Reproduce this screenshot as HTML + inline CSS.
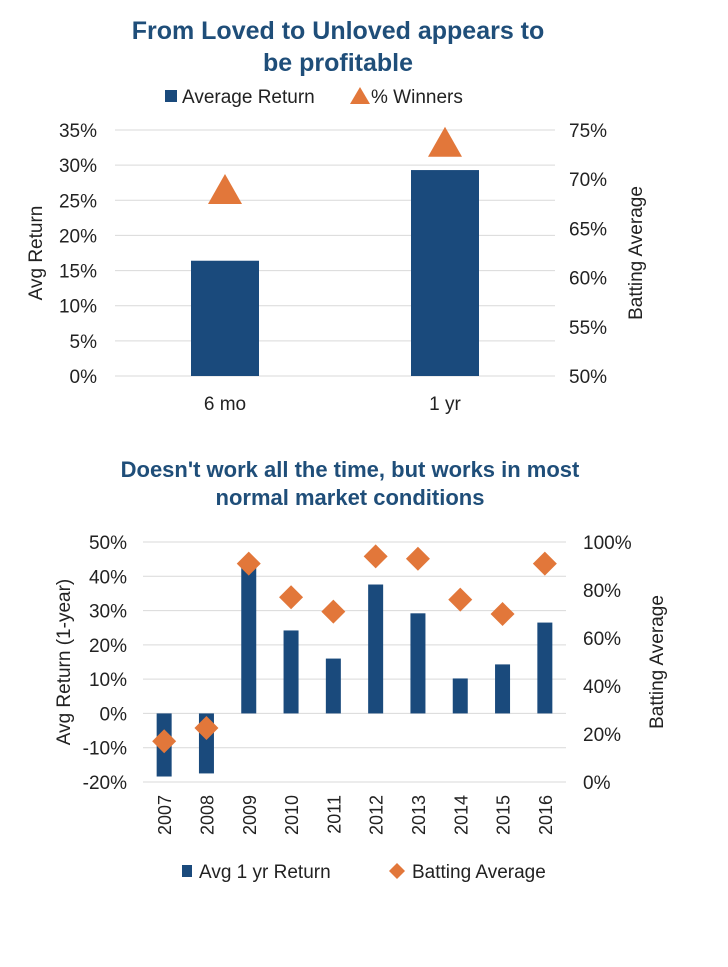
<!DOCTYPE html>
<html><head><meta charset="utf-8"><style>
body{margin:0;background:#fff;font-family:"Liberation Sans",Arial,sans-serif;}
svg text{font-family:"Liberation Sans",Arial,sans-serif;}
</style></head><body>
<svg id="s" width="728" height="962" xmlns="http://www.w3.org/2000/svg">
<rect width="728" height="962" fill="#fff"/>
<g id="top"></g>
<g id="bot"></g>
</svg>
<script>
const topCats=["6 mo","1 yr"];
const topReturns=[16.4,29.3];
const topWinners=[68.9,73.7];
const topLeftTicks=[0,5,10,15,20,25,30,35];
const topRightTicks=[50,55,60,65,70,75];
const botCats=["2007","2008","2009","2010","2011","2012","2013","2014","2015","2016"];
const botReturns=[-18.4,-17.5,43.7,24.2,16,37.6,29.2,10.2,14.3,26.5];
const botBatting=[17,22.5,91,77,71,94,93,76,70,91];
const botLeftTicks=[-20,-10,0,10,20,30,40,50];
const botRightTicks=[0,20,40,60,80,100];

const NS="http://www.w3.org/2000/svg";
const BLUE="#1a4a7c",ORANGE="#e2773a",TXT="#222";
function mk(parent,tag,attrs,text){const e=document.createElementNS(NS,tag);for(const k in attrs)e.setAttribute(k,attrs[k]);if(text!=null)e.textContent=text;parent.appendChild(e);return e;}

// ---- top chart
(function(){
const g=document.getElementById('top');
const x0=115,x1=555,yB=376,yT=130;
const yL=v=>yB-(v-0)/35*(yB-yT);
const yR=v=>yB-(v-50)/25*(yB-yT);
const band=(x1-x0)/topCats.length;
const xc=i=>x0+band*(i+0.5);
let t=mk(g,'text',{x:338,y:39,'text-anchor':'middle','font-size':25,'font-weight':'bold',fill:'#1f4e79'},'From Loved to Unloved appears to');

t=mk(g,'text',{x:338,y:71,'text-anchor':'middle','font-size':25,'font-weight':'bold',fill:'#1f4e79'},'be profitable');

// legend
let lg=mk(g,'g',{});
mk(lg,'rect',{x:165,y:90,width:12,height:12,fill:BLUE});
mk(lg,'text',{x:182,y:103,'font-size':19,fill:TXT},'Average Return');
mk(lg,'polygon',{points:'350,104 360,87 370,104',fill:ORANGE});
mk(lg,'text',{x:371,y:103,'font-size':19,fill:TXT},'% Winners');
topLeftTicks.forEach(v=>{const y=yL(v);
 const l=mk(g,'line',{x1:x0,x2:x1,y1:y,y2:y,stroke:'#d9d9d9','stroke-width':1});
 const tx=mk(g,'text',{x:97,y:y+7,'text-anchor':'end','font-size':19,fill:TXT},v+'%');});
topRightTicks.forEach(v=>{const tx=mk(g,'text',{x:569,y:yR(v)+7,'font-size':19,fill:TXT},v+'%');});
topReturns.forEach((v,i)=>{const b=mk(g,'rect',{x:xc(i)-34,y:yL(v),width:68,height:yB-yL(v),fill:BLUE});});
topWinners.forEach((v,i)=>{const c=xc(i),y=yR(v);const p=mk(g,'polygon',{points:`${c-17},${y+14} ${c},${y-16} ${c+17},${y+14}`,fill:ORANGE});});
topCats.forEach((c,i)=>{const tx=mk(g,'text',{x:xc(i),y:410,'text-anchor':'middle','font-size':19,fill:TXT},c);});
t=mk(g,'text',{transform:'translate(42,253) rotate(-90)','text-anchor':'middle','font-size':19,fill:TXT},'Avg Return');
t=mk(g,'text',{transform:'translate(642,253) rotate(-90)','text-anchor':'middle','font-size':19,fill:TXT},'Batting Average');
})();

// ---- bottom chart
(function(){
const g=document.getElementById('bot');
const x0=143,x1=566,yT=542,yB=782;
const yL=v=>yB-(v+20)/70*(yB-yT);
const yR=v=>yB-v/100*(yB-yT);
const band=(x1-x0)/botCats.length;
const xc=i=>x0+band*(i+0.5);
let t=mk(g,'text',{x:350,y:477,'text-anchor':'middle','font-size':22,'font-weight':'bold',fill:'#1f4e79'},"Doesn't work all the time, but works in most");

t=mk(g,'text',{x:350,y:505,'text-anchor':'middle','font-size':22,'font-weight':'bold',fill:'#1f4e79'},'normal market conditions');

botLeftTicks.forEach(v=>{const y=yL(v);
 const l=mk(g,'line',{x1:x0,x2:x1,y1:y,y2:y,stroke:'#d9d9d9','stroke-width':1});
 const tx=mk(g,'text',{x:127,y:y+7,'text-anchor':'end','font-size':19,fill:TXT},v+'%');});
botRightTicks.forEach(v=>{const tx=mk(g,'text',{x:583,y:yR(v)+7,'font-size':19,fill:TXT},v+'%');});
const y0=yL(0);
botReturns.forEach((v,i)=>{const y=yL(v);const b=mk(g,'rect',{x:xc(i)-7.5,y:Math.min(y,y0),width:15,height:Math.abs(y0-y),fill:BLUE});});
botBatting.forEach((v,i)=>{const c=xc(i),y=yR(v);const p=mk(g,'polygon',{points:`${c},${y-12} ${c+12},${y} ${c},${y+12} ${c-12},${y}`,fill:ORANGE});});
botCats.forEach((c,i)=>{const tx=mk(g,'text',{transform:`translate(${xc(i)+7},795) rotate(-90)`,'text-anchor':'end','font-size':18,fill:TXT},c);});
t=mk(g,'text',{transform:'translate(70,662) rotate(-90)','text-anchor':'middle','font-size':19,fill:TXT},'Avg Return (1-year)');
t=mk(g,'text',{transform:'translate(663,662) rotate(-90)','text-anchor':'middle','font-size':19,fill:TXT},'Batting Average');
let lg=mk(g,'g',{});
mk(lg,'rect',{x:182,y:865,width:10,height:12,fill:BLUE});
mk(lg,'text',{x:199,y:878,'font-size':19,fill:TXT},'Avg 1 yr Return');
mk(lg,'polygon',{points:'397,863 405,871 397,879 389,871',fill:ORANGE});
mk(lg,'text',{x:412,y:878,'font-size':19,fill:TXT},'Batting Average');
})();
</script>
</body></html>
